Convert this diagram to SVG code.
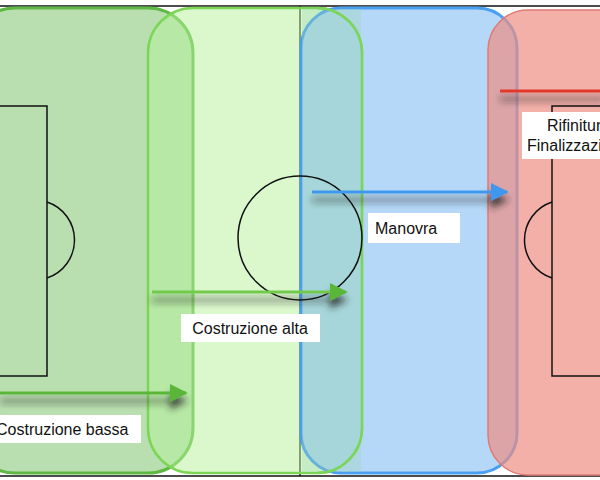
<svg xmlns="http://www.w3.org/2000/svg" width="600" height="480" viewBox="0 0 600 480">
<style>
.line{fill:none;stroke:#111;stroke-width:1.5}
.lbl{fill:#fff}
.t{font-family:"Helvetica","Liberation Sans",Arial,sans-serif;font-size:16px;fill:#111}
</style>
<defs>
<filter id="sh" filterUnits="userSpaceOnUse" x="0" y="0" width="600" height="480"><feDropShadow dx="0" dy="8" stdDeviation="3.5" flood-color="#222" flood-opacity="0.75"/></filter>
<marker id="ag" viewBox="0 0 10 10" refX="9" refY="5" markerWidth="6" markerHeight="6" orient="auto"><path d="M0,0L10,5L0,10z" fill="#5ab53a"/></marker>
<marker id="ab" viewBox="0 0 10 10" refX="9" refY="5" markerWidth="6" markerHeight="6" orient="auto"><path d="M0,0L10,5L0,10z" fill="#3f97ee"/></marker>
</defs>
<rect width="600" height="480" fill="#fff"/>
<g id="field">
<line class="line" x1="0" y1="6" x2="600" y2="6"/>
<line class="line" x1="0" y1="476" x2="600" y2="476"/>
<line class="line" x1="300" y1="6" x2="300" y2="476"/>
</g>
<g id="zone-bassa"><rect x="-30" y="8" width="223" height="465" rx="45" fill="#b9dfb1" stroke="#5eb843" stroke-width="3"/></g>
<g id="zone-alta"><rect x="148" y="8" width="214" height="465" rx="45" fill="#b6f29a" fill-opacity="0.5" stroke="#7cd655" stroke-width="2.5"/></g>
<g id="zone-manovra"><rect x="301" y="8" width="216" height="465" rx="40" fill="#9ccbf5" fill-opacity="0.75" stroke="#4a9ff0" stroke-width="3"/></g>
<g id="zone-rifinitura"><rect x="488" y="10" width="160" height="465" rx="40" fill="#ec8f84" fill-opacity="0.7" stroke="#e07a74" stroke-width="1.5"/></g>
<rect x="302" y="9" width="59" height="463" fill="#9ad8b8" fill-opacity="0.35"/>
<path d="M317,8A45,45 0 0 1 362,53V428A45,45 0 0 1 317,473" fill="none" stroke="#7cd655" stroke-width="2.5"/>
<g id="markings">
<path class="line" d="M0,106H47V376H0"/>
<path class="line" d="M47,202A40,40 0 0 1 47,278"/>
<circle class="line" cx="300" cy="238" r="62"/>
<path class="line" d="M600,106H552V376H600"/>
<path class="line" d="M552,202A40,40 0 0 0 552,278"/>
</g>
<g id="connectors" filter="url(#sh)">
<line x1="0" y1="393" x2="186" y2="393" stroke="#5ab53a" stroke-width="3" marker-end="url(#ag)"/>
<line x1="152" y1="292" x2="346" y2="292" stroke="#72c94c" stroke-width="3" marker-end="url(#ag)"/>
<line x1="312" y1="192" x2="507" y2="192" stroke="#3f97ee" stroke-width="3" marker-end="url(#ab)"/>
<line x1="500" y1="91" x2="605" y2="91" stroke="#e2372a" stroke-width="3"/>
</g>
<g id="label-bassa"><rect class="lbl" x="-5" y="415" width="146" height="28"/><text class="t" x="-4" y="435">Costruzione bassa</text></g>
<g id="label-alta"><rect class="lbl" x="181" y="314" width="139" height="28"/><text class="t" x="250" y="334" text-anchor="middle">Costruzione alta</text></g>
<g id="label-manovra"><rect class="lbl" x="368" y="213" width="92" height="30"/><text class="t" x="375" y="234">Manovra</text></g>
<g id="label-rifinitura"><rect class="lbl" x="522" y="112" width="90" height="47"/><text class="t" x="547" y="131">Rifinitura</text><text class="t" x="527" y="151">Finalizzazione</text></g>
</svg>
